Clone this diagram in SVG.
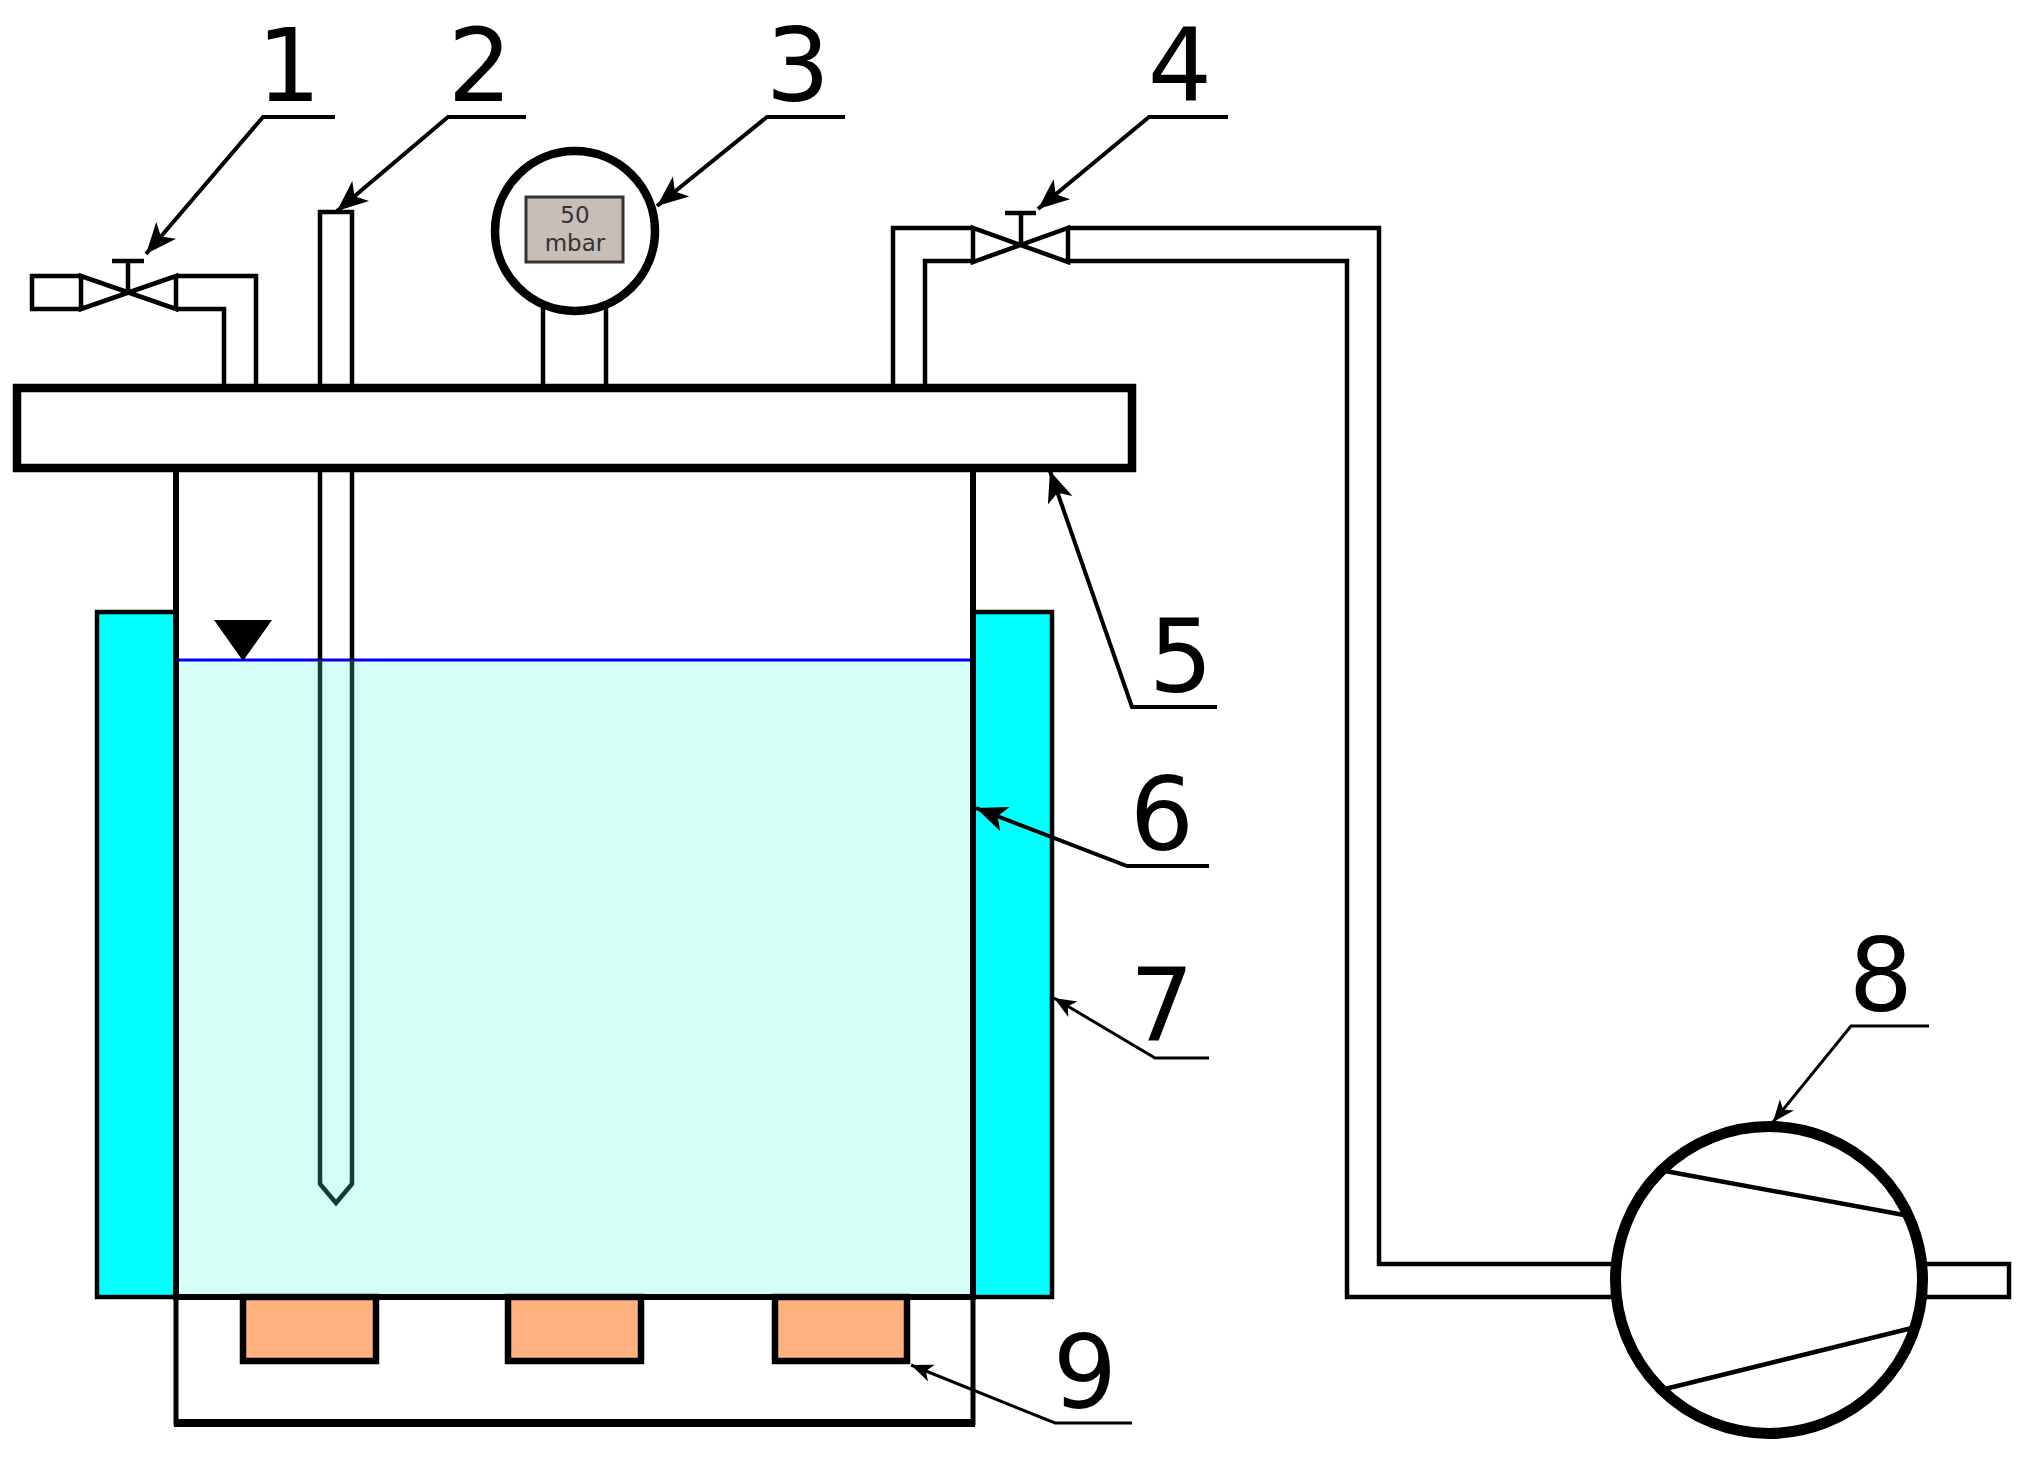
<svg xmlns="http://www.w3.org/2000/svg" width="2022" height="1458" viewBox="0 0 2022 1458">
<style>
.p{fill:none;stroke:#000;stroke-width:4.5;stroke-linejoin:miter}
.t{fill:none;stroke:#000;stroke-width:6;stroke-linejoin:miter}
.l{fill:none;stroke:#000;stroke-width:4}
.m{fill:none;stroke:#000;stroke-width:3}
.n{font-family:"DejaVu Sans",sans-serif;font-size:101px;fill:#000;text-anchor:middle}
.s{font-family:"DejaVu Sans",sans-serif;font-size:23px;fill:#333;text-anchor:middle}
.h{fill:#ffb27f;stroke:#000;stroke-width:6.5}
</style>
<defs>
<marker id="a" markerUnits="userSpaceOnUse" markerWidth="34" markerHeight="28" refX="32" refY="14" orient="auto" viewBox="0 0 34 28"><path d="M32,14 L1,1 L9,14 L1,27 Z" fill="#000"/></marker>
<marker id="b" markerUnits="userSpaceOnUse" markerWidth="24" markerHeight="20" refX="22" refY="10" orient="auto" viewBox="0 0 24 20"><path d="M22,10 L0,1 L6,10 L0,19 Z" fill="#000"/></marker>
</defs>
<rect width="2022" height="1458" fill="#fff"/>
<g id="jacket"><rect x="97" y="612" width="955" height="685" fill="#00ffff" stroke="#000" stroke-width="4.5"/></g>
<g id="vessel">
<rect x="176" y="660" width="797" height="637" fill="#d5fff6"/>
<rect x="176" y="468" width="797" height="192" fill="#fff"/>
<path d="M176,660H973" fill="none" stroke="#0000ff" stroke-width="3"/>
<path class="t" d="M176,468V1297H973V468"/>
</g>
<g id="level"><path d="M214,620H272L243,661Z" fill="#000"/></g>
<g id="tube"><path class="p" d="M320,660V1184L336,1203L352,1184V660" style="stroke:#0f3d35"/><path class="p" d="M320,384V212H352V384M320,468V660M352,468V660"/></g>
<g id="base"><path d="M176,1297V1423H973V1297" fill="none" stroke="#000" stroke-width="5"/><path d="M174,1423H975" stroke="#000" stroke-width="8"/></g>
<g id="heater1"><rect class="h" x="243" y="1297" width="133" height="64"/></g>
<g id="heater2"><rect class="h" x="508" y="1297" width="133" height="64"/></g>
<g id="heater3"><rect class="h" x="775" y="1297" width="132" height="64"/></g>
<g id="valve1">
<path class="p" d="M81,276H32V309H81M176,276H256V384M176,309H224V384"/>
<path class="p" d="M81,276V309L176,276V309ZM128,292V261M112,261H144"/>
</g>
<g id="gauge">
<path class="p" d="M543,308V384M606,308V384"/>
<circle cx="575" cy="231" r="80" fill="#fff" stroke="#000" stroke-width="8.5"/>
<rect x="526" y="197" width="97" height="65" fill="#c8bdb7" stroke="#333" stroke-width="3"/>
<text class="s" x="575" y="223">50</text>
<text class="s" x="575" y="251">mbar</text>
</g>
<g id="valve4">
<path class="p" d="M973,228H893V384M973,261H925V384M1068,228H1379V1264H1612M1068,261H1347V1297H1612"/>
<path class="p" d="M973,228V262L1068,228V262ZM1021,245V213M1005,213H1036"/>
</g>
<g id="flange"><rect x="17" y="388" width="1115" height="80" fill="#fff" stroke="#000" stroke-width="8.5"/></g>
<g id="pump">
<path class="p" d="M1926,1264H2009V1297H1926"/>
<circle cx="1769" cy="1280" r="153.5" fill="#fff" stroke="#000" stroke-width="11"/>
<path class="p" d="M1665,1171L1904,1215M1665,1389L1912,1328"/>
</g>
<g id="connectors">
<path class="l" marker-end="url(#a)" d="M335,117H263L146,254"/>
<path class="l" marker-end="url(#a)" d="M526,117H448L337,211"/>
<path class="l" marker-end="url(#a)" d="M845,117H767L657,206"/>
<path class="l" marker-end="url(#a)" d="M1228,117H1149L1038,209"/>
<path class="l" marker-end="url(#a)" d="M1217,707H1132L1050,471"/>
<path class="l" marker-end="url(#a)" d="M1209,866H1127L976,808"/>
<path class="m" marker-end="url(#b)" d="M1209,1058H1155L1054,998"/>
<path class="m" marker-end="url(#b)" d="M1929,1026H1851L1773,1122"/>
<path class="m" marker-end="url(#b)" d="M1132,1423H1055L911,1365"/>
</g>
<g id="labels">
<text class="n" x="289" y="101">1</text>
<text class="n" x="480" y="101">2</text>
<text class="n" x="798" y="101">3</text>
<text class="n" x="1180" y="101">4</text>
<text class="n" x="1181" y="692">5</text>
<text class="n" x="1162" y="850">6</text>
<text class="n" x="1162" y="1041">7</text>
<text class="n" x="1881" y="1011">8</text>
<text class="n" x="1085" y="1408">9</text>
</g>
</svg>
